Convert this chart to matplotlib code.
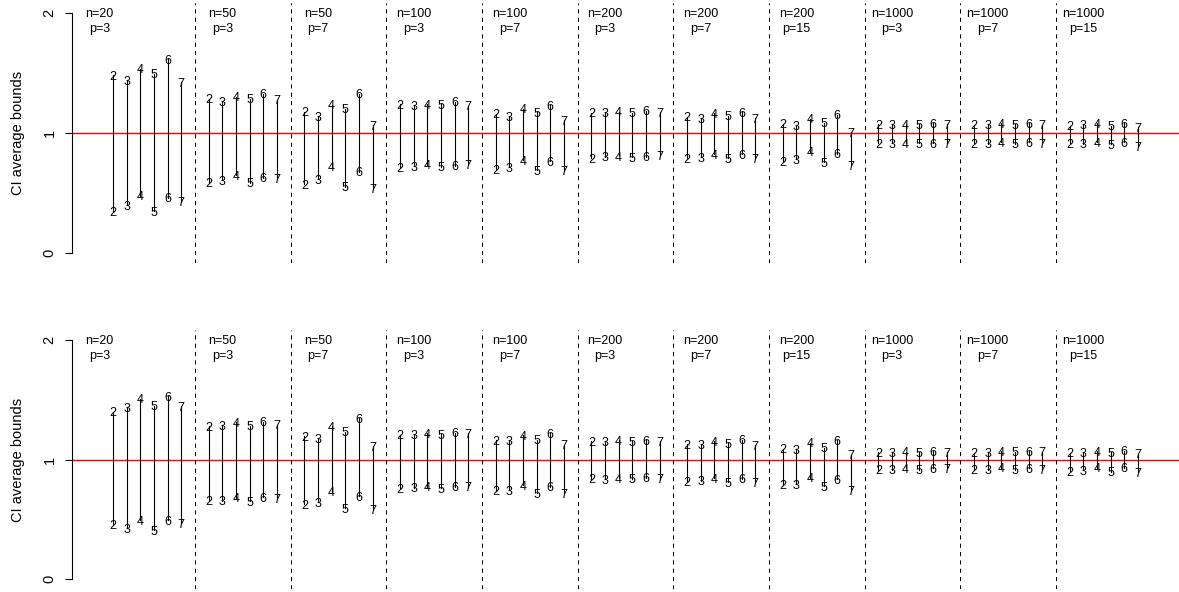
import matplotlib.pyplot as plt

plt.rcParams['font.family'] = ['Liberation Sans', 'DejaVu Sans']

# sample size / number of predictors for each block of intervals
n_values = [20, 50, 50, 100, 100, 200, 200, 200, 1000, 1000, 1000]
p_values = [3, 3, 7, 3, 7, 3, 7, 15, 3, 7, 15]
methods = ['2', '3', '4', '5', '6', '7']

# average CI bounds, one row per (n, p) block, one column per method
upper_a = [
    [1.48, 1.44, 1.535, 1.494, 1.616, 1.421],
    [1.287, 1.262, 1.304, 1.285, 1.326, 1.276],
    [1.179, 1.137, 1.234, 1.201, 1.326, 1.064],
    [1.240, 1.229, 1.240, 1.240, 1.262, 1.229],
    [1.162, 1.137, 1.201, 1.173, 1.232, 1.106],
    [1.170, 1.170, 1.179, 1.170, 1.187, 1.173],
    [1.137, 1.123, 1.165, 1.145, 1.173, 1.123],
    [1.078, 1.059, 1.120, 1.086, 1.153, 1.008],
    [1.073, 1.075, 1.075, 1.075, 1.082, 1.075],
    [1.067, 1.072, 1.081, 1.072, 1.081, 1.067],
    [1.061, 1.067, 1.081, 1.061, 1.081, 1.050],
]
lower_a = [
    [0.35, 0.397, 0.478, 0.347, 0.459, 0.431],
    [0.584, 0.607, 0.649, 0.587, 0.629, 0.621],
    [0.573, 0.615, 0.718, 0.551, 0.676, 0.537],
    [0.710, 0.724, 0.735, 0.718, 0.727, 0.738],
    [0.696, 0.713, 0.774, 0.690, 0.763, 0.685],
    [0.791, 0.802, 0.808, 0.796, 0.802, 0.816],
    [0.791, 0.796, 0.824, 0.788, 0.821, 0.788],
    [0.766, 0.782, 0.844, 0.755, 0.827, 0.732],
    [0.915, 0.913, 0.915, 0.913, 0.913, 0.915],
    [0.914, 0.909, 0.925, 0.911, 0.922, 0.914],
    [0.914, 0.911, 0.922, 0.908, 0.922, 0.891],
]
upper_b = [
    [1.401, 1.437, 1.507, 1.451, 1.529, 1.446],
    [1.279, 1.284, 1.312, 1.284, 1.315, 1.292],
    [1.195, 1.178, 1.279, 1.234, 1.343, 1.111],
    [1.206, 1.212, 1.220, 1.212, 1.223, 1.220],
    [1.159, 1.156, 1.201, 1.167, 1.220, 1.123],
    [1.153, 1.153, 1.162, 1.153, 1.162, 1.153],
    [1.128, 1.128, 1.153, 1.136, 1.164, 1.120],
    [1.089, 1.084, 1.139, 1.097, 1.159, 1.039],
    [1.061, 1.061, 1.064, 1.061, 1.070, 1.061],
    [1.056, 1.061, 1.070, 1.064, 1.070, 1.064],
    [1.056, 1.056, 1.070, 1.061, 1.072, 1.047],
]
lower_b = [
    [0.457, 0.423, 0.493, 0.409, 0.490, 0.468],
    [0.657, 0.657, 0.680, 0.652, 0.685, 0.677],
    [0.627, 0.643, 0.730, 0.593, 0.691, 0.582],
    [0.760, 0.763, 0.772, 0.760, 0.774, 0.772],
    [0.738, 0.744, 0.783, 0.716, 0.774, 0.716],
    [0.838, 0.833, 0.844, 0.838, 0.847, 0.838],
    [0.816, 0.822, 0.844, 0.811, 0.838, 0.811],
    [0.788, 0.794, 0.847, 0.777, 0.833, 0.744],
    [0.916, 0.916, 0.928, 0.916, 0.928, 0.928],
    [0.916, 0.916, 0.930, 0.916, 0.928, 0.916],
    [0.903, 0.908, 0.930, 0.897, 0.930, 0.894],
]

W, H = 1179, 592
GROUP_WIDTH = 7  # 6 intervals plus one slot for the separator


def draw_panel(ax, upper, lower):
    ax.set_xlim(-2, 79)
    ax.set_ylim(-0.08, 2.08)

    ax.axhline(1, color='red', lw=1.0, zorder=1)

    for g in range(len(n_values)):
        x0 = g * GROUP_WIDTH
        if g > 0:
            ax.axvline(x0, color='black', lw=0.75, linestyle=(0, (4, 4)))
        for j, m in enumerate(methods):
            x = x0 + j + 1
            ax.plot([x, x], [lower[g][j], upper[g][j]], color='black', lw=0.8, zorder=2)
            ax.text(x, upper[g][j], m, ha='center', va='center_baseline', fontsize=9, zorder=3)
            ax.text(x, lower[g][j], m, ha='center', va='center_baseline', fontsize=9, zorder=3)
        tx = x0 + 2 if g > 0 else 0
        ax.text(tx, 1.93, 'n=%d\np=%d' % (n_values[g], p_values[g]), ha='center', va='center',
                multialignment='center', fontsize=9, linespacing=1.3)

    # R-style left axis only
    for side in ['top', 'right', 'bottom']:
        ax.spines[side].set_visible(False)
    ax.spines['left'].set_bounds(0, 2)
    ax.spines['left'].set_linewidth(0.8)
    ax.set_xticks([])
    ax.set_yticks([0, 1, 2])
    ax.tick_params(axis='y', length=5, width=0.8, pad=6, labelsize=10.5, labelrotation=90)
    for lab in ax.get_yticklabels():
        lab.set_va('center')
    ax.set_ylabel('CI average bounds', fontsize=10.5, va='center')
    ax.yaxis.set_label_coords((18 - 72) / 1107, 0.5)


fig = plt.figure(figsize=(W / 100, H / 100), dpi=100)
ax_top = fig.add_axes([72 / W, 1 - 262.6 / H, 1107 / W, 259.2 / H])
ax_bot = fig.add_axes([72 / W, 1 - 588.6 / H, 1107 / W, 258.2 / H])

draw_panel(ax_top, upper_a, lower_a)
draw_panel(ax_bot, upper_b, lower_b)

fig.savefig('out.png', dpi=100)
